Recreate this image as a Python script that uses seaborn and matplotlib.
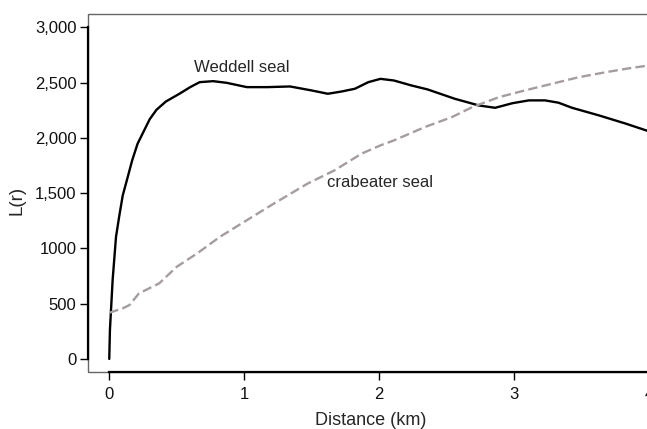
import matplotlib
matplotlib.use("Agg")
import matplotlib.pyplot as plt
import numpy as np
import pandas as pd
import seaborn as sns
from matplotlib.patches import Rectangle

# values
weddell_km = [0.0, 0.005, 0.025, 0.05, 0.075, 0.10, 0.137, 0.17, 0.21, 0.30, 0.35, 0.42, 0.52,
              0.60, 0.67, 0.77, 0.87, 1.02, 1.17, 1.34, 1.50, 1.62, 1.72, 1.82, 1.92, 2.01,
              2.11, 2.24, 2.36, 2.56, 2.74, 2.86, 2.99, 3.11, 3.23, 3.33, 3.43, 3.63, 3.83, 4.0]
weddell_L = [0, 262, 714, 1105, 1300, 1480, 1647, 1798, 1948, 2170, 2255, 2330, 2400,
             2460, 2505, 2514, 2499, 2460, 2460, 2466, 2430, 2400, 2420, 2445, 2505, 2535,
             2520, 2475, 2439, 2355, 2294, 2273, 2315, 2340, 2340, 2319, 2273, 2204, 2129, 2060]

crab_km = [0.0, 0.10, 0.15, 0.22, 0.37, 0.50, 0.65, 0.82, 1.02, 1.22, 1.47, 1.67, 1.87, 2.01,
           2.11, 2.34, 2.54, 2.69, 2.89, 3.08, 3.28, 3.48, 3.68, 3.86, 4.0]
crab_L = [418, 458, 488, 593, 684, 834, 954, 1105, 1256, 1406, 1587, 1707, 1858, 1933,
          1978, 2099, 2189, 2279, 2370, 2430, 2490, 2550, 2595, 2632, 2656]

y_ticks = [0, 500, 1000, 1500, 2000, 2500, 3000]
y_ticklabels = ["0", "500", "1000", "1,500", "2,000", "2,500", "3,000"]
x_ticks = [0, 1, 2, 3, 4]

df = pd.concat([
    pd.DataFrame({"km": weddell_km, "L": weddell_L, "seal": "Weddell seal"}),
    pd.DataFrame({"km": crab_km, "L": crab_L, "seal": "crabeater seal"}),
])

sns.set_style("ticks")
plt.rcParams["font.family"] = ["Liberation Sans", "DejaVu Sans"]

fig = plt.figure(figsize=(6.47, 4.29), dpi=100)
ax = fig.add_axes([0.1355, 0.1329, 0.875, 0.8345])

sns.lineplot(data=df, x="km", y="L", hue="seal", style="seal",
             palette={"Weddell seal": "black", "crabeater seal": "#a59d9d"},
             dashes={"Weddell seal": "", "crabeater seal": (4.0, 1.8)},
             linewidth=1.7, legend=False, ax=ax, sort=False)

ax.set_xlim(-0.160, 4.036)
ax.set_ylim(-118, 3122)
ax.set_xticks(x_ticks)
ax.set_yticks(y_ticks)
ax.set_yticklabels(y_ticklabels)
ax.tick_params(labelsize=12, length=6, width=1, color="black", labelcolor="#111111")
ax.tick_params(axis="x", pad=5)
ax.tick_params(axis="y", pad=2)

# gray frame plus black axis lines that stop at the first and last ticks
ax.add_patch(Rectangle((0, 0), 1, 1, transform=ax.transAxes, fill=False,
                       edgecolor="#666666", linewidth=1.0, clip_on=False, zorder=0))
for side in ["top", "right"]:
    ax.spines[side].set_visible(False)
for side in ["left", "bottom"]:
    ax.spines[side].set_linewidth(1.6)
    ax.spines[side].set_color("black")
ax.spines["left"].set_bounds(0, 3000)
ax.spines["bottom"].set_bounds(0, 4)

ax.set_xlabel("Distance (km)", fontsize=13, labelpad=7)
ax.set_ylabel("L(r)", fontsize=13.5)
ax.yaxis.set_label_coords(-0.11, 0.48)

ax.text(0.98, 2640, "Weddell seal", fontsize=12, ha="center", va="center")
ax.text(2.01, 1601, "crabeater seal", fontsize=12, ha="center", va="center")

fig.savefig("out.png", dpi=100)
